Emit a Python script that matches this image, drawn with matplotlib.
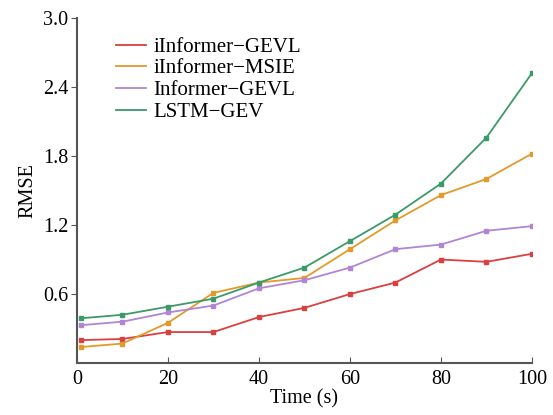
import matplotlib
matplotlib.use('Agg')
import matplotlib.pyplot as plt

plt.rcParams['font.family'] = ['Liberation Serif', 'DejaVu Serif']
plt.rcParams['font.size'] = 14.5

time = [1, 10, 20, 30, 40, 50, 60, 70, 80, 90, 100]
iinformer_gevl = [0.20, 0.21, 0.27, 0.27, 0.40, 0.48, 0.60, 0.70, 0.90, 0.88, 0.95]
iinformer_msie = [0.14, 0.17, 0.35, 0.61, 0.70, 0.74, 0.99, 1.24, 1.46, 1.60, 1.82]
informer_gevl = [0.33, 0.36, 0.44, 0.50, 0.65, 0.72, 0.83, 0.99, 1.03, 1.15, 1.19]
lstm_gev = [0.39, 0.42, 0.49, 0.56, 0.70, 0.83, 1.06, 1.29, 1.56, 1.96, 2.52]

names = ['iInformer\u2212GEVL', 'iInformer\u2212MSIE', 'Informer\u2212GEVL', 'LSTM\u2212GEV']
colors = ['#d9403f', '#e39a2a', '#b085d6', '#3a9a68']

fig = plt.figure(figsize=(5.53, 4.15), dpi=100)
ax = fig.add_axes([0.139, 0.125, 0.823, 0.832])

for ys, name, c in zip([iinformer_gevl, iinformer_msie, informer_gevl, lstm_gev], names, colors):
    ax.plot(time, ys, color=c, lw=1.3, marker='s', ms=3.2, label=name)

ax.set_xlim(0, 100)
ax.set_ylim(0, 3.0)
ax.set_xticks([0, 20, 40, 60, 80, 100])
ax.set_yticks([0.6, 1.2, 1.8, 2.4, 3.0])
ax.set_yticklabels(['0.6', '1.2', '1.8', '2.4', '3.0'])
ax.set_xlabel('Time (s)', labelpad=0)
ax.set_ylabel('RMSE', labelpad=4)

for s in ['top', 'right']:
    ax.spines[s].set_visible(False)
for s in ['left', 'bottom']:
    ax.spines[s].set_color('#555555')
    ax.spines[s].set_linewidth(1.5)
ax.tick_params(axis='x', direction='in', length=4, color='#555555', pad=5)
ax.tick_params(axis='y', direction='out', length=4, color='#555555', pad=2)

leg = ax.legend(loc='upper left', bbox_to_anchor=(0.068, 0.968), frameon=False,
                borderaxespad=0, handlelength=1.45, handletextpad=0.35,
                labelspacing=0.1, fontsize=15)
for h in leg.legend_handles:
    h.set_marker('')

fig.savefig('out.png', dpi=100)
